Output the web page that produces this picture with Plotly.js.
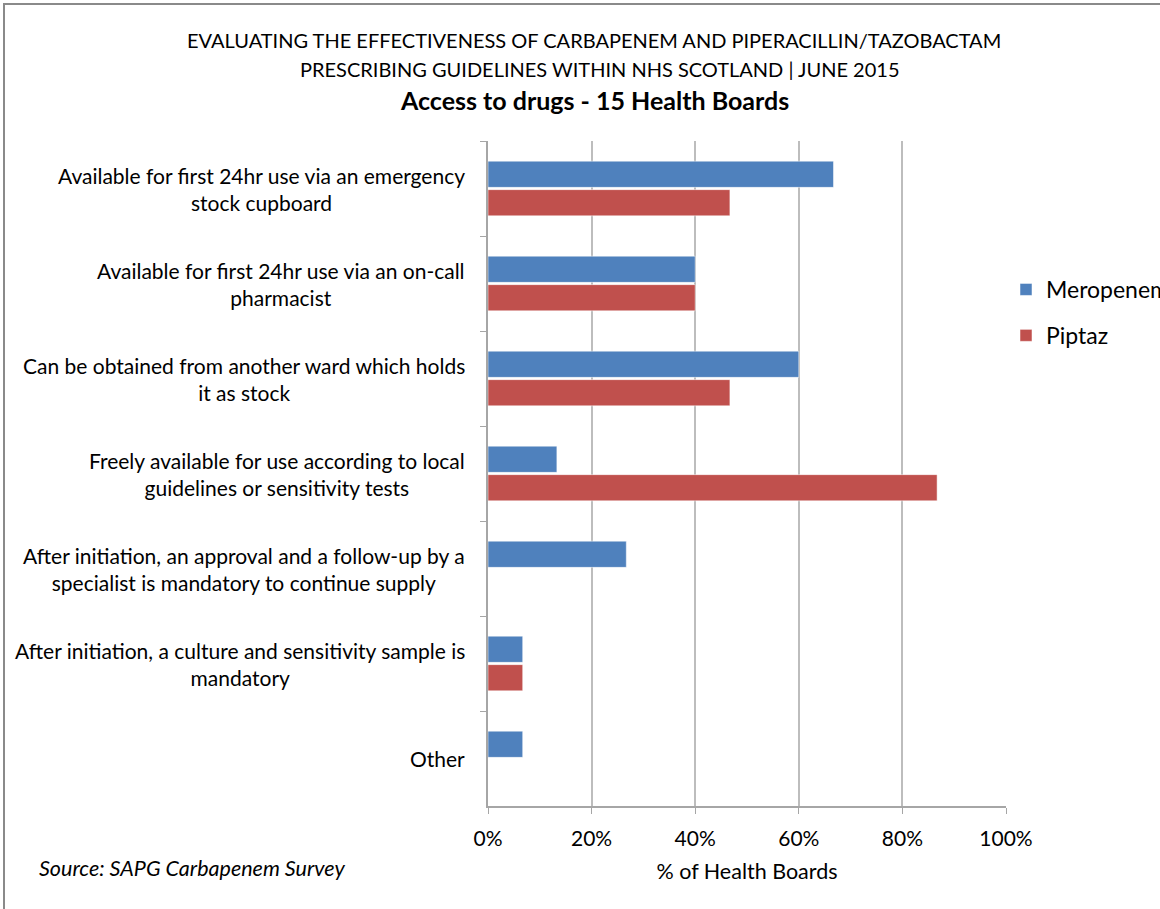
<!DOCTYPE html>
<html>
<head>
<meta charset="utf-8">
<script src="https://cdn.plot.ly/plotly-3.0.1.min.js"></script>
<style>html,body{margin:0;padding:0;background:#fff;}#chart{width:1160px;height:909px;}</style>
</head>
<body>
<div id="chart"></div>
<script>
const categories = [
  "Available for first 24hr use via an emergency<br>stock cupboard",
  "Available for first 24hr use via an on-call<br>pharmacist",
  "Can be obtained from another ward which holds<br>it as stock",
  "Freely available for use according to local<br>guidelines or sensitivity tests",
  "After initiation, an approval and a follow-up by a<br>specialist is mandatory to continue supply",
  "After initiation, a culture and sensitivity sample is<br>mandatory",
  "Other"
];
const meropenem = [66.7, 40.0, 60.0, 13.3, 26.7, 6.7, 6.7];
const piptaz = [46.7, 40.0, 46.7, 86.7, 0, 6.7, 0];
const xTicks = [0, 20, 40, 60, 80, 100];
const xTickLabels = ["0%", "20%", "40%", "60%", "80%", "100%"];

const FONT = "Lato, 'Open Sans', sans-serif";
const L = 488, R = 1006, T = 141, B = 806;
const px = x => (x - L) / (R - L);
const py = y => (B - y) / (B - T);

const traces = [
  {type: 'bar', orientation: 'h', name: 'Meropenem', y: categories, x: meropenem,
   marker: {color: '#4F81BD', line: {color: 'rgba(255,255,255,0.5)', width: 1}}, legendgroup: 'a'},
  {type: 'bar', orientation: 'h', name: 'Piptaz', y: categories, x: piptaz,
   marker: {color: '#C0504D', line: {color: 'rgba(255,255,255,0.5)', width: 1}}, legendgroup: 'b'}
];

const annotations = categories.map(c => ({
  text: c, xref: 'paper', yref: 'y', x: 0, y: c, xshift: -21,
  xanchor: 'right', yanchor: 'middle', align: 'center', showarrow: false,
  font: {family: FONT, size: 21, color: '#000'}
}));
annotations.push(
  {text: 'EVALUATING THE EFFECTIVENESS OF CARBAPENEM AND PIPERACILLIN/TAZOBACTAM', xref: 'paper', yref: 'paper',
   x: px(594), y: py(40), xanchor: 'center', yanchor: 'middle', showarrow: false, font: {family: FONT, size: 20, color: '#000'}},
  {text: 'PRESCRIBING GUIDELINES WITHIN NHS SCOTLAND | JUNE 2015', xref: 'paper', yref: 'paper',
   x: px(600), y: py(69), xanchor: 'center', yanchor: 'middle', showarrow: false, font: {family: FONT, size: 20, color: '#000'}},
  {text: '<b>Access to drugs - 15 Health Boards</b>', xref: 'paper', yref: 'paper',
   x: px(594), y: py(100), xanchor: 'center', yanchor: 'middle', showarrow: false, font: {family: FONT, size: 25, color: '#000'}},
  {text: '<i>Source: SAPG Carbapenem Survey</i>', xref: 'paper', yref: 'paper',
   x: px(37), y: py(868), xanchor: 'left', yanchor: 'middle', showarrow: false, font: {family: FONT, size: 21.5, color: '#000'}}
);

const layout = {
  width: 1160, height: 909,
  margin: {l: L, r: 1160 - R, t: T, b: 909 - B, pad: 0},
  paper_bgcolor: '#fff', plot_bgcolor: '#fff',
  barmode: 'group', bargap: 0.4, bargroupgap: 0.08,
  showlegend: true,
  legend: {xref: 'container', yref: 'container', x: 1006 / 1160, y: 1 - 268 / 909, xanchor: 'left', yanchor: 'top',
           traceorder: 'grouped', tracegroupgap: 13,
           font: {family: FONT, size: 23, color: '#000'}, bgcolor: 'rgba(0,0,0,0)'},
  xaxis: {
    range: [0, 100], tickvals: xTicks, ticktext: xTickLabels, showgrid: true, gridcolor: '#bdbdbd', gridwidth: 2,
    zeroline: false, showline: true, linecolor: '#a6a6a6', linewidth: 2, ticks: 'outside', ticklen: 6, tickcolor: '#a6a6a6',
    tickwidth: 1, ticklabelstandoff: 7, tickfont: {family: FONT, size: 21, color: '#000'},
    title: {text: '% of Health Boards', font: {family: FONT, size: 21.5, color: '#000'}, standoff: 15},
    automargin: false, fixedrange: true
  },
  yaxis: {
    type: 'category', autorange: 'reversed', showticklabels: false, showgrid: false, zeroline: false,
    showline: true, linecolor: '#a6a6a6', linewidth: 2, ticks: 'outside', tickson: 'boundaries', ticklen: 6,
    tickcolor: '#a6a6a6', automargin: false, fixedrange: true
  },
  annotations: annotations,
  shapes: [{type: 'rect', xref: 'paper', yref: 'paper', x0: px(4), x1: px(1300), y0: py(1000), y1: py(4),
            line: {color: '#8a8a8a', width: 2}, fillcolor: 'rgba(0,0,0,0)', layer: 'above'}]
};

Plotly.newPlot('chart', traces, layout, {displayModeBar: false, staticPlot: true});
</script>
</body>
</html>
